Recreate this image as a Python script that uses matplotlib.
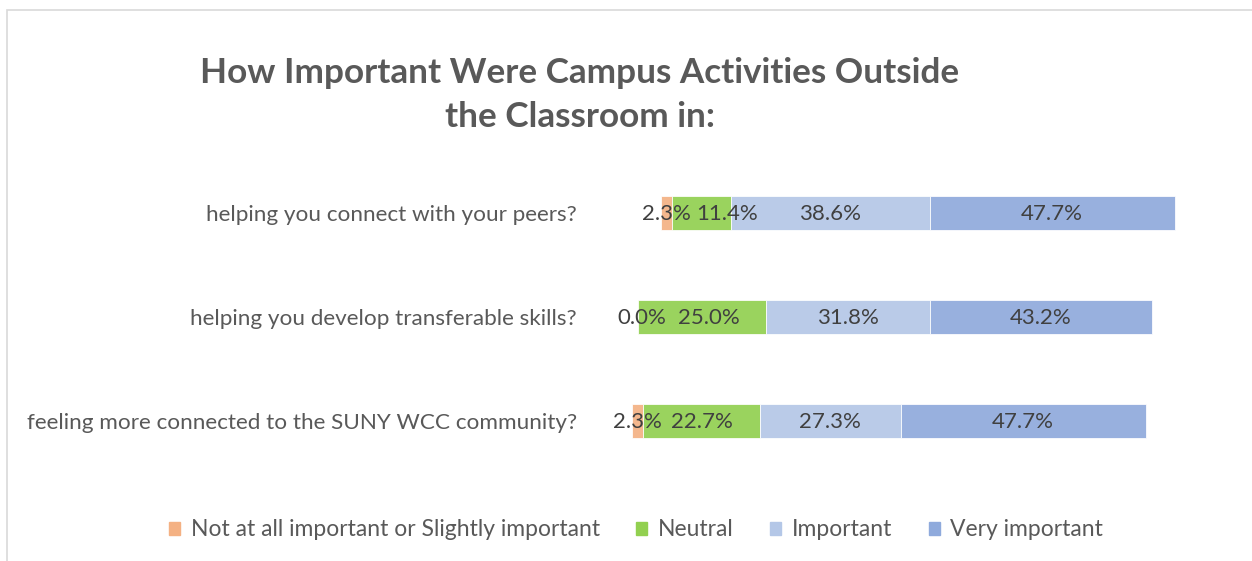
import matplotlib.pyplot as plt
import numpy as np
from matplotlib.patches import Rectangle

plt.rcParams["font.family"] = ["Lato", "DejaVu Sans"]

questions = [
    "helping you connect with your peers?",
    "helping you develop transferable skills?",
    "feeling more connected to the SUNY WCC community?",
]
not_important = [2.3, 0.0, 2.3]
neutral = [11.4, 25.0, 22.7]
important = [38.6, 31.8, 27.3]
very_important = [47.7, 43.2, 47.7]

series_names = [
    "Not at all important or Slightly important",
    "Neutral",
    "Important",
    "Very important",
]
colors = ["#F4B183", "#92D050", "#B4C7E7", "#8FAADC"]

# labels that were dragged aside in the original so they don't collide
label_nudge = {(0, 1): 5.0, (1, 0): 0.9, (1, 1): 1.3}

fig = plt.figure(figsize=(12.52, 5.61), dpi=100)
# outer chart border
fig.patches.append(Rectangle((7 / 1252, -0.1), 1.2, 1 - 10 / 561 + 0.1,
                             transform=fig.transFigure, fill=False,
                             edgecolor="#D9D9D9", linewidth=1.2))

ax = fig.add_axes([600 / 1252, 0.157, 600 / 1252, 0.556])

y = np.arange(len(questions))
# diverging layout: centre every bar on the middle of the neutral segment
left = -(np.array(not_important) + np.array(neutral) / 2)
for si, (name, vals, col) in enumerate(zip(
        series_names, [not_important, neutral, important, very_important], colors)):
    vals = np.array(vals)
    ax.barh(y, vals, left=left, height=0.33, color=col, alpha=0.92,
            edgecolor="white", linewidth=0.6, label=name)
    for yi, l, v in zip(y, left, vals):
        dx = label_nudge.get((yi, si), 0.0)
        ax.text(l + v / 2 + dx, yi + 0.01, f"{v:.1f}%", ha="center", va="center",
                fontsize=16, color="#404040")
    left = left + vals

ax.set_xlim(-19.8, 96.9)
ax.set_ylim(2.5, -0.5)
ax.set_yticks(y)
ax.set_yticklabels(questions, fontsize=16.2, color="#595959")
ax.tick_params(axis="y", length=0, pad=16.5)
ax.set_xticks([])
for s in ax.spines.values():
    s.set_visible(False)

fig.text(580 / 1252, 1 - 95 / 561,
         "How Important Were Campus Activities Outside\nthe Classroom in:",
         ha="center", va="center", fontsize=25.3, fontweight="bold",
         color="#595959", linespacing=1.45)

leg = fig.legend(handles=[plt.Rectangle((0, 0), 1, 1, color=c) for c in colors],
                 labels=series_names, loc="center", ncol=4,
                 bbox_to_anchor=(636 / 1252, 1 - 530 / 561), frameon=False,
                 fontsize=16.5, handlelength=0.48, handleheight=0.48,
                 handletextpad=0.45, columnspacing=1.6)
for t in leg.get_texts():
    t.set_color("#595959")

fig.savefig("out.png", dpi=100)
